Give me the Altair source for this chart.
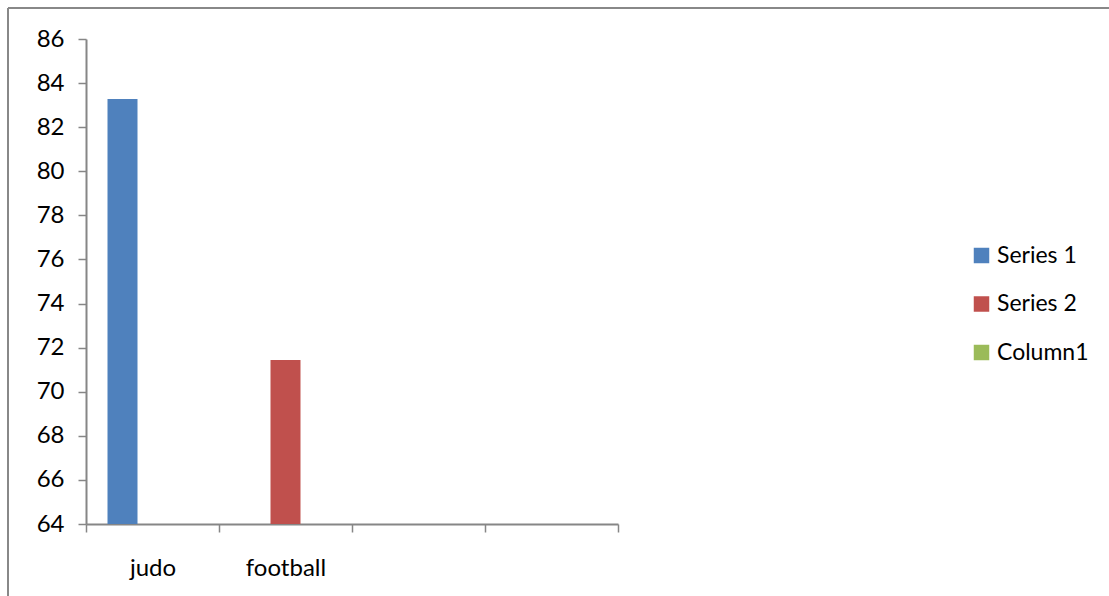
import altair as alt
import pandas as pd

# ---- data ----
categories = ["judo", "football", "cat3", "cat4"]
cat_labels = ["judo", "football", "", ""]
series_names = ["Series 1", "Series 2", "Column1"]
series_colors = ["#4F81BD", "#C0504D", "#9BBB59"]
bar_category = ["judo", "football"]
bar_series = ["Series 1", "Series 2"]
bar_values = [83.28, 71.44]
y_ticks = [64, 66, 68, 70, 72, 74, 76, 78, 80, 82, 84, 86]

df = pd.DataFrame({"category": bar_category, "series": bar_series, "value": bar_values})

label_map = "{" + ",".join(f"'{c}':'{l}'" for c, l in zip(categories, cat_labels)) + "}"
FONT = "Lato"
AXIS_GREY = "#868686"

bars = alt.Chart(df).mark_bar().encode(
    x=alt.X("category:N", sort=categories,
            scale=alt.Scale(domain=categories, paddingInner=0, paddingOuter=0),
            axis=alt.Axis(title=None, labelAngle=0, tickBand="extent",
                          labelExpr=f"{label_map}[datum.value]",
                          labelFont=FONT, labelFontSize=24, labelColor="#000000",
                          labelPadding=24, tickSize=8, tickColor=AXIS_GREY, tickWidth=1.5,
                          domainColor=AXIS_GREY, domainWidth=2, grid=False)),
    xOffset=alt.XOffset("series:N", sort=series_names,
                        scale=alt.Scale(domain=series_names, paddingInner=0, paddingOuter=0.7167)),
    y=alt.Y("value:Q", scale=alt.Scale(domain=[64, 86], zero=False, nice=False),
            axis=alt.Axis(title=None, values=y_ticks, labelFont=FONT, labelFontSize=24,
                          labelColor="#000000", labelPadding=14, tickSize=8,
                          tickColor=AXIS_GREY, tickWidth=1.5, domainColor=AXIS_GREY,
                          domainWidth=2, grid=False)),
    y2=alt.datum(64),
    color=alt.Color("series:N", sort=series_names,
                    scale=alt.Scale(domain=series_names, range=series_colors),
                    legend=alt.Legend(title=None, orient="none", legendX=884, legendY=205,
                                      symbolType="square", symbolSize=240, symbolStrokeWidth=0,
                                      labelFont=FONT, labelFontSize=23, labelColor="#000000",
                                      labelOffset=4, rowPadding=24.5, padding=0, labelLimit=300)),
)

border_top = alt.Chart(pd.DataFrame({"a": [0]})).mark_rule(color="#888888", strokeWidth=2).encode(
    x=alt.value(-78), x2=alt.value(1109), y=alt.value(-31))
border_left = alt.Chart(pd.DataFrame({"a": [0]})).mark_rule(color="#888888", strokeWidth=2).encode(
    x=alt.value(-78), y=alt.value(-31), y2=alt.value(600))

chart = alt.layer(border_top, border_left, bars).properties(
    width=532, height=485,
    autosize=alt.AutoSizeParams(type="none"),
    padding={"left": 86, "top": 39, "right": 491, "bottom": 72},
    background="#ffffff",
).configure_view(stroke=None)

chart.save("out.html", embed_options={"renderer": "svg", "actions": False})
